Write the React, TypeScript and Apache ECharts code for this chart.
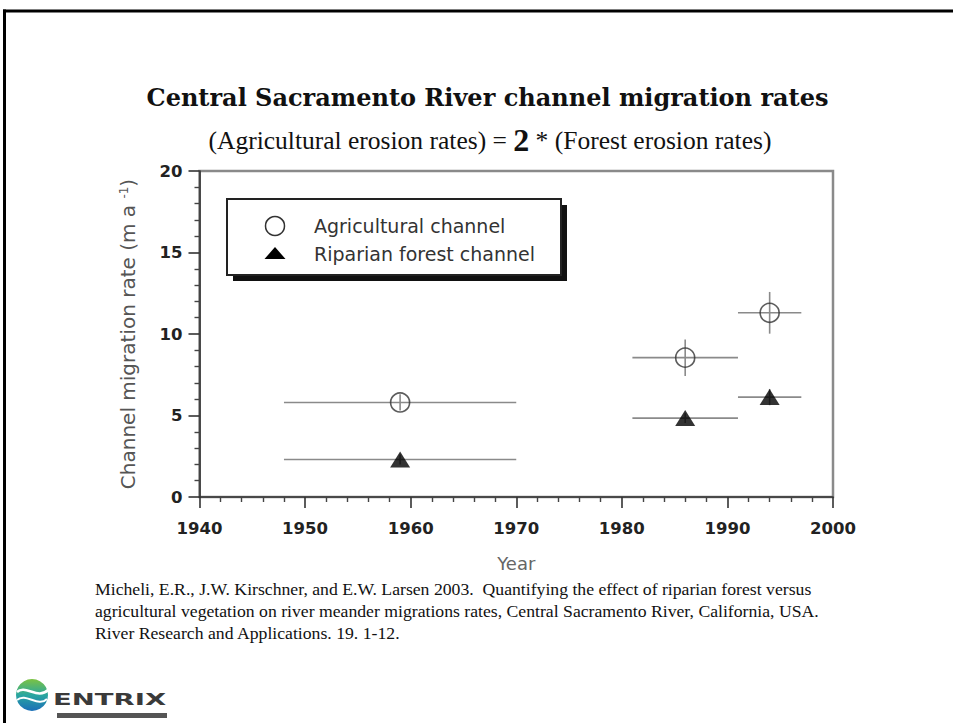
import React, { useEffect, useRef } from "react";
import * as echarts from "echarts";

// ---- data ----
const years = [1959, 1986, 1994];
const yearLow = [1948, 1981, 1991];
const yearHigh = [1970, 1991, 1997];
const agriRate = [5.8, 8.55, 11.3];
const agriErr = [0.5, 1.12, 1.28];
const forestRate = [2.3, 4.84, 6.13];
const forestErr = [0.3, 0.3, 0.5];

const seriesNames = ["Agricultural channel", "Riparian forest channel"];
const citationLines = [
  "Micheli, E.R., J.W. Kirschner, and E.W. Larsen 2003.  Quantifying the effect of riparian forest versus",
  "agricultural vegetation on river meander migrations rates, Central Sacramento River, California, USA.",
  "River Research and Applications. 19. 1-12.",
];

const SANS = "DejaVu Sans";
const SERIF = "Liberation Serif";

function errRows(rates: number[], errs: number[]) {
  return years.map((y, i) => [y, rates[i], yearLow[i], yearHigh[i], rates[i] - errs[i], rates[i] + errs[i]]);
}

function renderErr(params: any, api: any) {
  const x = api.value(0);
  const y = api.value(1);
  const a = api.coord([api.value(2), y]);
  const b = api.coord([api.value(3), y]);
  const c = api.coord([x, api.value(4)]);
  const d = api.coord([x, api.value(5)]);
  const st = { stroke: "#8a8a8a", lineWidth: 1.6 };
  return {
    type: "group",
    children: [
      { type: "line", shape: { x1: a[0], y1: a[1], x2: b[0], y2: b[1] }, style: st },
      { type: "line", shape: { x1: c[0], y1: c[1], x2: d[0], y2: d[1] }, style: st },
    ],
  };
}

export default function App() {
  const ref = useRef<HTMLDivElement>(null);
  useEffect(() => {
    if (!ref.current) return;
    const chart = echarts.init(ref.current, undefined, { renderer: "svg" });
    const option: any = {
      animation: false,
      backgroundColor: "#ffffff",
      grid: {
        left: 199.5,
        right: 120,
        top: 171,
        bottom: 226,
        show: true,
        borderColor: "#8a8a8a",
        borderWidth: 2.5,
        backgroundColor: "transparent",
      },
      xAxis: {
        type: "value",
        min: 1940,
        max: 2000,
        interval: 10,
        name: "Year",
        nameLocation: "middle",
        nameGap: 57,
        nameTextStyle: { fontFamily: SANS, fontSize: 18, color: "#666" },
        axisLine: { lineStyle: { color: "#333", width: 1.6 } },
        axisTick: { length: 11, lineStyle: { color: "#333", width: 1.6 } },
        minorTick: { show: true, splitNumber: 5, length: 5, lineStyle: { color: "#444", width: 1.4 } },
        splitLine: { show: false },
        axisLabel: {
          fontFamily: SANS,
          fontSize: 16.5,
          fontWeight: "bold",
          color: "#222",
          margin: 23,
          formatter: (v: number) => String(v),
        },
      },
      yAxis: {
        type: "value",
        min: 0,
        max: 20,
        interval: 5,
        name: "Channel migration rate (m a {sup|-1})",
        nameLocation: "middle",
        nameGap: 62,
        nameTextStyle: {
          fontFamily: SANS,
          fontSize: 20,
          color: "#555",
          rich: { sup: { fontFamily: SANS, fontSize: 12, color: "#555", verticalAlign: "top" } },
        },
        axisLine: { lineStyle: { color: "#333", width: 1.6 } },
        axisTick: { length: 11, lineStyle: { color: "#333", width: 1.6 } },
        minorTick: { show: true, splitNumber: 5, length: 5, lineStyle: { color: "#444", width: 1.4 } },
        splitLine: { show: false },
        axisLabel: { fontFamily: SANS, fontSize: 16.5, fontWeight: "bold", color: "#222", margin: 17 },
      },
      series: [
        {
          type: "custom",
          name: seriesNames[0] + " range",
          renderItem: renderErr,
          data: errRows(agriRate, agriErr),
          z: 2,
          silent: true,
        },
        {
          type: "custom",
          name: seriesNames[1] + " range",
          renderItem: renderErr,
          data: errRows(forestRate, forestErr),
          z: 2,
          silent: true,
        },
        {
          type: "scatter",
          name: seriesNames[0],
          symbol: "circle",
          symbolSize: 19,
          itemStyle: { color: "rgba(255,255,255,0)", borderColor: "#333", borderWidth: 1.6 },
          data: years.map((y, i) => [y, agriRate[i]]),
          z: 5,
        },
        {
          type: "scatter",
          name: seriesNames[1],
          symbol: "triangle",
          symbolSize: [20, 16],
          itemStyle: { color: "#000" },
          data: years.map((y, i) => [y, forestRate[i]]),
          z: 5,
        },
      ],
      graphic: [
        // slide frame
        { type: "rect", shape: { x: 3, y: 9.5, width: 960, height: 3 }, style: { fill: "#000" } },
        { type: "rect", shape: { x: 3, y: 9.5, width: 3, height: 720 }, style: { fill: "#000" } },
        // title
        {
          type: "text",
          x: 487.5,
          y: 97,
          style: {
            text: "Central Sacramento River channel migration rates",
            fontFamily: "DejaVu Serif",
            fontWeight: "bold",
            fontSize: 24,
            fill: "#111",
            align: "center",
            verticalAlign: "middle",
          },
        },
        {
          type: "text",
          x: 490,
          y: 140,
          style: {
            text: "(Agricultural erosion rates) = {b|2} * (Forest erosion rates)",
            fontFamily: SERIF,
            fontSize: 25.5,
            fill: "#111",
            align: "center",
            verticalAlign: "middle",
            rich: { b: { fontFamily: SERIF, fontWeight: "bold", fontSize: 32, fill: "#111" } },
          },
        },
        // legend box
        { type: "rect", z: 10, shape: { x: 233, y: 205, width: 334, height: 76 }, style: { fill: "#111" } },
        {
          type: "rect",
          z: 11,
          shape: { x: 227, y: 199, width: 334, height: 76 },
          style: { fill: "#fff", stroke: "#222", lineWidth: 2 },
        },
        {
          type: "circle",
          z: 12,
          shape: { cx: 275, cy: 226, r: 9.5 },
          style: { fill: "#fff", stroke: "#333", lineWidth: 1.5 },
        },
        {
          type: "polygon",
          z: 12,
          shape: { points: [[275, 247], [285.5, 259], [264.5, 259]] },
          style: { fill: "#000" },
        },
        {
          type: "text",
          z: 12,
          x: 314,
          y: 226,
          style: { text: seriesNames[0], fontFamily: SANS, fontSize: 19, fill: "#333", verticalAlign: "middle" },
        },
        {
          type: "text",
          z: 12,
          x: 314,
          y: 254,
          style: { text: seriesNames[1], fontFamily: SANS, fontSize: 19, fill: "#333", verticalAlign: "middle" },
        },
        // citation
        ...citationLines.map((t, i) => ({
          type: "text",
          x: 95,
          y: 589 + i * 22,
          style: { text: t, fontFamily: SERIF, fontSize: 17.7, fill: "#111", verticalAlign: "middle" },
        })),
        // logo
        {
          type: "circle",
          shape: { cx: 32, cy: 695, r: 16 },
          style: {
            fill: new echarts.graphic.LinearGradient(0, 0, 0, 1, [
              { offset: 0, color: "#7cc242" },
              { offset: 0.5, color: "#2aa7a0" },
              { offset: 1, color: "#1b6fb8" },
            ]),
          },
        },
        {
          type: "bezierCurve",
          shape: { x1: 17, y1: 692, cpx1: 25, cpy1: 684, cpx2: 38, cpy2: 700, x2: 48, y2: 690 },
          style: { stroke: "#fff", lineWidth: 2.5, fill: "none" },
        },
        {
          type: "bezierCurve",
          shape: { x1: 17, y1: 700, cpx1: 26, cpy1: 692, cpx2: 38, cpy2: 708, x2: 47, y2: 699 },
          style: { stroke: "#fff", lineWidth: 2, fill: "none" },
        },
        {
          type: "text",
          x: 53,
          y: 699,
          scaleX: 1.72,
          style: {
            text: "ENTRIX",
            fontFamily: SANS,
            fontWeight: "bold",
            fontSize: 16,
            fill: "#3a3a3a",
            verticalAlign: "middle",
          },
        },
        { type: "rect", shape: { x: 57, y: 713, width: 110, height: 5 }, style: { fill: "#555" } },
      ],
    };
    chart.setOption(option);
    return () => chart.dispose();
  }, []);
  return (
    <div
      ref={ref}
      style={{ position: "absolute", left: 0, top: 0, width: 953, height: 723, background: "#fff" }}
    />
  );
}
